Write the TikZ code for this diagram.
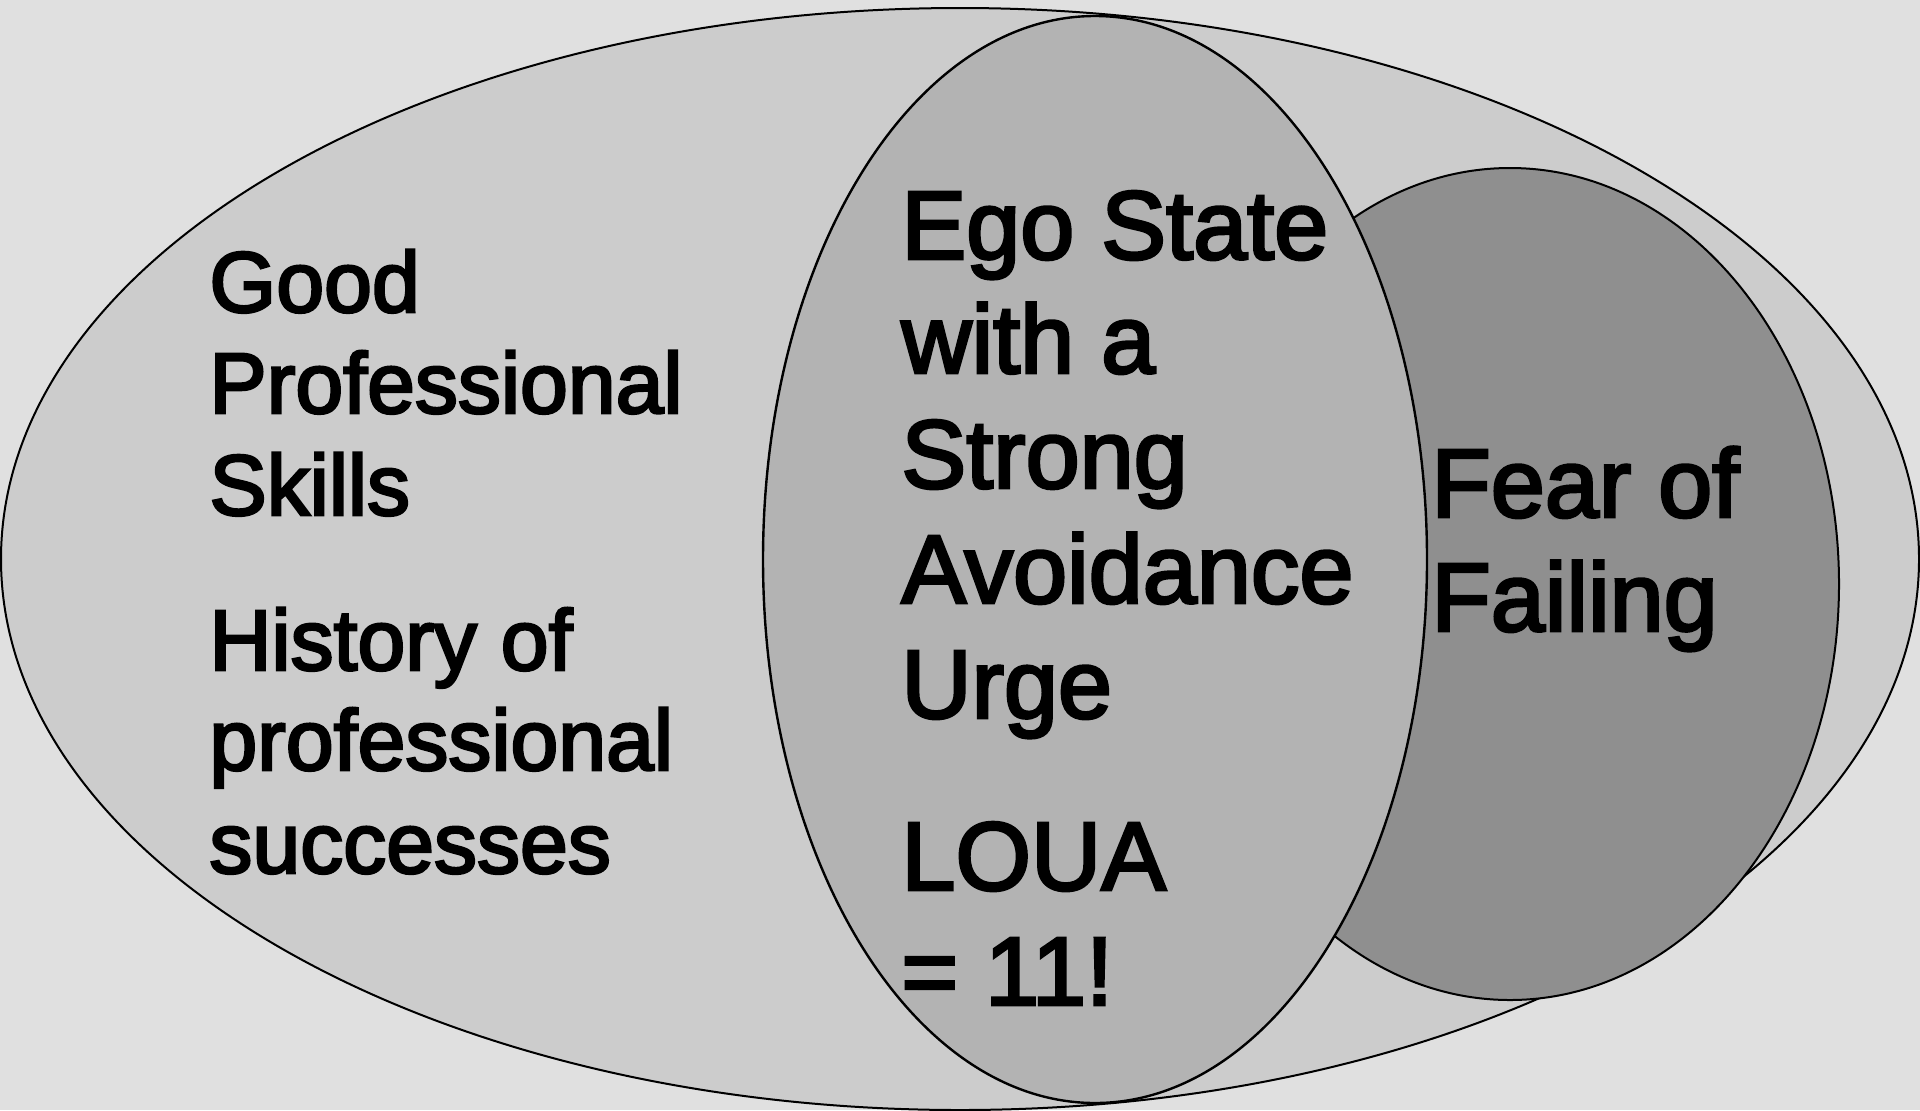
\documentclass[tikz,border=0pt]{standalone}
\usepackage{fontspec}
\setmainfont{Liberation Sans}
\newfontfamily\labelfont{Liberation Sans}[FakeBold=3]
\definecolor{bggray}{HTML}{E0E0E0}
\definecolor{outergray}{HTML}{CCCCCC}
\definecolor{egogray}{HTML}{B3B3B3}
\definecolor{feargray}{HTML}{8F8F8F}
\begin{document}
\begin{tikzpicture}[x=0.5pt,y=-0.5pt,
  outline/.style={draw=black,line width=1pt},
  lefttext/.style={anchor=base west,inner sep=0pt,font=\labelfont\fontsize{43pt}{50pt}\selectfont},
  bigtext/.style={anchor=base west,inner sep=0pt,font=\labelfont\fontsize{48.6pt}{57pt}\selectfont}]
  % canvas
  \fill[bggray] (0,0) rectangle (1920,1110);
  \useasboundingbox (0,0) rectangle (1920,1110);

  % outer set
  \path[outline,fill=outergray] (960,559) ellipse [x radius=479.5pt, y radius=275.5pt];
  % fear set (partly behind the ego set)
  \path[outline,fill=feargray] (1510,584) ellipse [x radius=164.5pt, y radius=208pt];
  % ego state set
  \path[outline,fill=egogray,line width=1.2pt] (1095,559.5) ellipse [x radius=166pt, y radius=271.75pt];

  % left labels
  \node[lefttext] (good)  at (209,312) {Good};
  \node[lefttext] (prof)  at (209,413) {Professional};
  \node[lefttext] (skill) at (209,515) {Skills};
  \node[lefttext] (hist)  at (209,670) {History of};
  \node[lefttext] (prof2) at (209,770) {professional};
  \node[lefttext] (succ)  at (209,873) {successes};

  % ego state labels
  \node[bigtext] (ego)   at (901,259) {Ego State};
  \node[bigtext] (with)  at (901,373) {with a};
  \node[bigtext] (strong) at (901,488) {Strong};
  \node[bigtext] (avoid) at (901,603) {Avoidance};
  \node[bigtext] (urge)  at (901,718) {Urge};
  \node[bigtext] (loua)  at (901,890) {LOUA};
  \node[bigtext] (eleven) at (901,1005) {= 11!};

  % fear labels
  \node[bigtext] (fear)  at (1431,517) {Fear of};
  \node[bigtext] (fail)  at (1431,631) {Failing};
\end{tikzpicture}
\end{document}
